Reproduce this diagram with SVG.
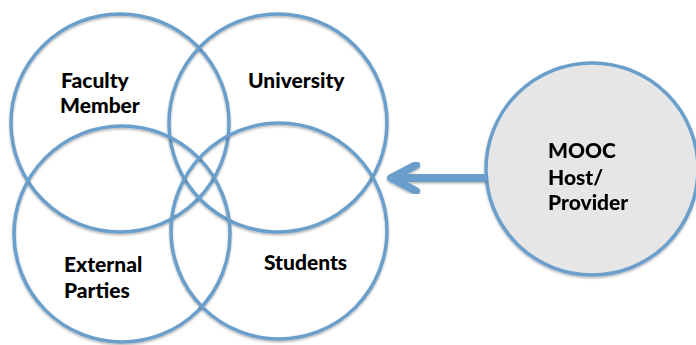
<svg xmlns="http://www.w3.org/2000/svg" width="696" height="345" viewBox="0 0 696 345">
<defs>
<filter id="sh" x="-10%" y="-10%" width="120%" height="120%">
<feDropShadow dx="0" dy="1.5" stdDeviation="1" flood-color="#000" flood-opacity="0.3"/>
</filter>
</defs>
<style>
.c{fill:none;stroke:#6a9fcb;stroke-width:3.5}
.m{fill:#e6e6e6;stroke:#6a9fcb;stroke-width:3.5}
.t{font-family:Lato,"Liberation Sans",sans-serif;font-weight:900;font-size:21px;fill:#000}
.a{fill:none;stroke:#6a9fcb;stroke-width:8;stroke-linecap:round;stroke-linejoin:round}
</style>
<rect width="696" height="345" fill="#fff"/>
<g id="faculty-member" filter="url(#sh)">
<circle class="c" cx="120" cy="123" r="109"/>
</g>
<g id="university" filter="url(#sh)">
<circle class="c" cx="278" cy="123" r="109"/>
</g>
<g id="external-parties" filter="url(#sh)">
<circle class="c" cx="122" cy="234" r="108"/>
</g>
<g id="students" filter="url(#sh)">
<circle class="c" cx="279" cy="231" r="108"/>
</g>
<g id="labels">
<text class="t" x="61" y="88">Faculty</text>
<text class="t" x="60" y="113">Member</text>
<text class="t" x="248" y="88">University</text>
<text class="t" x="64" y="272">External</text>
<text class="t" x="64" y="298">Parties</text>
<text class="t" x="264" y="270">Students</text>
</g>
<g id="mooc-host-provider" filter="url(#sh)">
<circle class="m" cx="592" cy="169" r="106"/>
<text class="t" x="548" y="158">MOOC</text>
<text class="t" x="548" y="185">Host/</text>
<text class="t" x="548" y="210">Provider</text>
</g>
<g id="connectors" filter="url(#sh)">
<path class="a" d="M484,178 H393 M416,165 L391,178 L416,191"/>
</g>
</svg>
